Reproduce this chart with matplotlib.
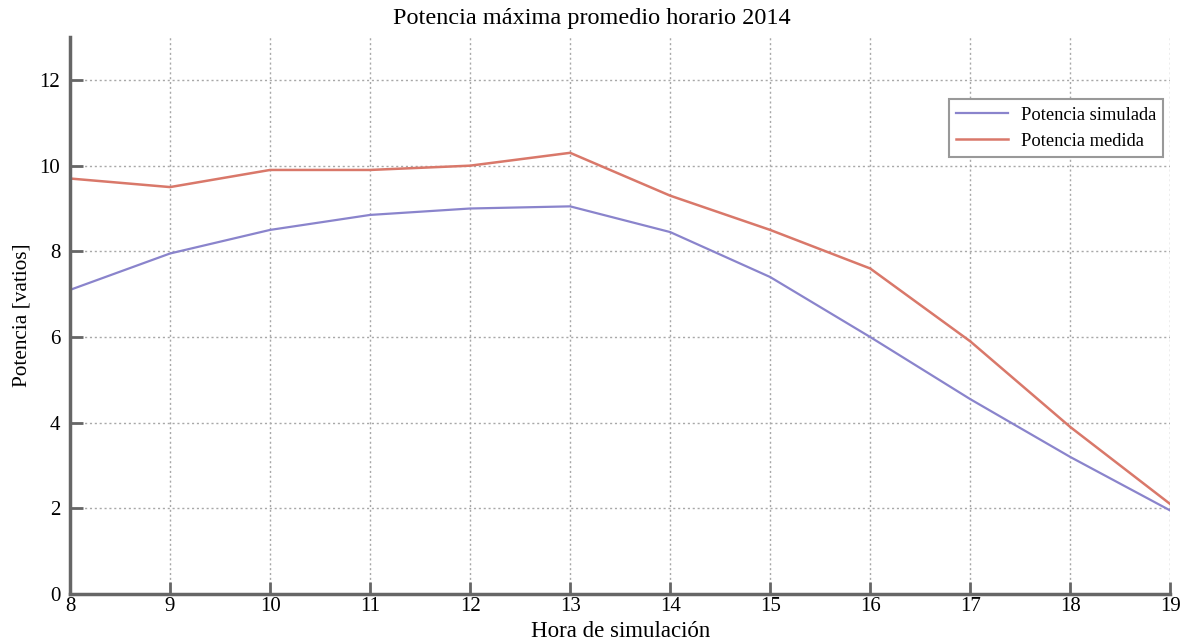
import matplotlib
matplotlib.use("Agg")
import matplotlib.pyplot as plt

# hour of simulation vs maximum power (watts)
horas = [8, 9, 10, 11, 12, 13, 14, 15, 16, 17, 18, 19]
pot_simulada = [7.1, 7.95, 8.5, 8.85, 9.0, 9.05, 8.45, 7.4, 6.0, 4.55, 3.2, 1.95]
pot_medida = [9.7, 9.5, 9.9, 9.9, 10.0, 10.3, 9.3, 8.5, 7.6, 5.9, 3.9, 2.1]

x_ticks = list(range(8, 20))
y_ticks = [0, 2, 4, 6, 8, 10, 12]

plt.rcParams["font.family"] = ["Liberation Serif", "DejaVu Serif"]

fig = plt.figure(figsize=(11.83, 6.43), dpi=100)
ax = fig.add_axes([0.0592, 0.0762, 0.930, 0.866])

ax.plot(horas, pot_simulada, color="#8a84cc", lw=1.6, label="Potencia simulada")
ax.plot(horas, pot_medida, color="#d9786a", lw=1.8, label="Potencia medida")

ax.set_xlim(8, 19)
ax.set_ylim(0, 13)
ax.set_xticks(x_ticks)
ax.set_yticks(y_ticks)
ax.grid(True, color="#a8a8a8", linestyle=(0, (1.5, 2)), lw=1.0)

for side in ("top", "right"):
    ax.spines[side].set_visible(False)
for side in ("left", "bottom"):
    ax.spines[side].set_color("#666666")
    ax.spines[side].set_linewidth(2.5)
ax.tick_params(direction="in", length=9, width=2, color="#666666",
               labelsize=15)
ax.tick_params(axis="x", pad=2)
ax.tick_params(axis="y", pad=7)

# title is centred on the figure, not on the axes
fig.suptitle("Potencia máxima promedio horario 2014", fontsize=17.5, y=0.988)
ax.set_xlabel("Hora de simulación", fontsize=16.5, labelpad=4)
ax.set_ylabel("Potencia [vatios]", fontsize=15.3, labelpad=6)

leg = ax.legend(loc="upper right", bbox_to_anchor=(1.002, 0.905), fontsize=13.3,
                fancybox=False, framealpha=1, edgecolor="#999999",
                handlelength=2.8, borderpad=0.4, labelspacing=0.5,
                handletextpad=0.7)
leg.get_frame().set_linewidth(1.5)

fig.savefig("out.png", dpi=100)
plt.close(fig)
